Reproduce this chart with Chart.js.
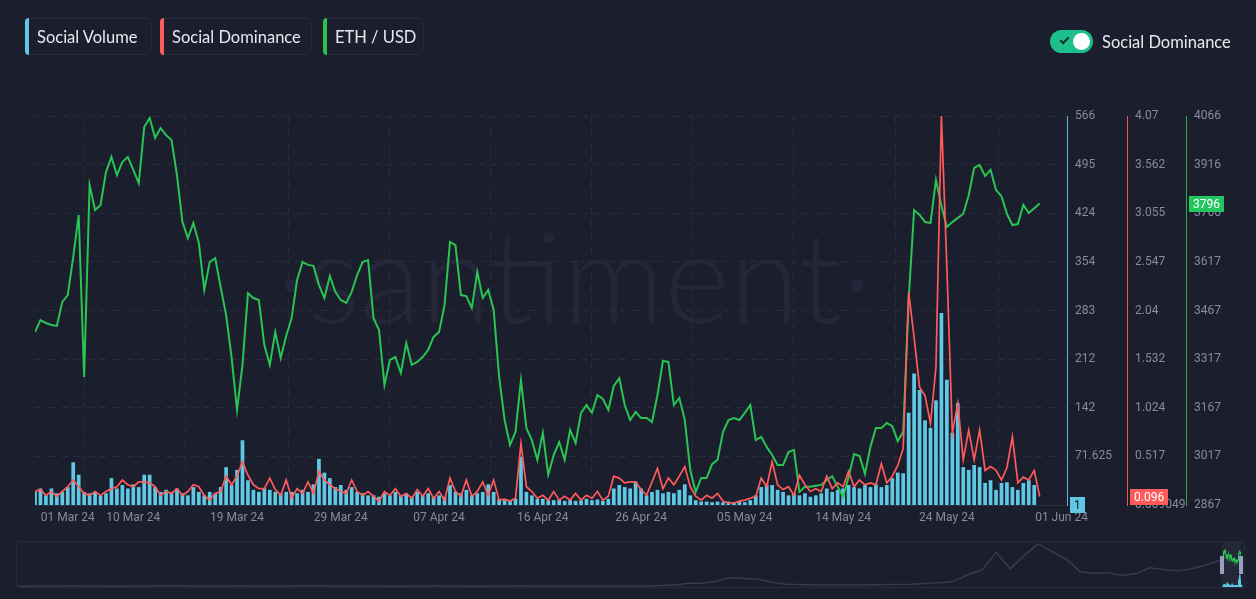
<!DOCTYPE html>
<html><head><meta charset="utf-8">
<script src="https://cdn.jsdelivr.net/npm/chart.js@4.4.1/dist/chart.umd.min.js"></script>
<style>
html,body{margin:0;padding:0;background:#1b1e2d;}
body{width:1256px;height:599px;position:relative;overflow:hidden;font-family:Lato,"Open Sans",sans-serif;}
.wm{position:absolute;left:276px;top:212px;font-family:Lato,"Open Sans",sans-serif;font-weight:300;font-size:126px;line-height:1;color:#232739;white-space:nowrap;z-index:0;}
#mainWrap{position:absolute;left:0;top:0;width:1256px;height:599px;z-index:1;}
.lg{position:absolute;top:18px;height:37px;box-sizing:border-box;border:1px solid #272b3d;border-radius:5px;color:#e7e9ef;font-size:16.5px;line-height:37px;padding-left:11px;z-index:2;}
.lg:before{content:"";position:absolute;left:-1px;top:-1px;bottom:-1px;width:4px;border-radius:5px 0 0 5px;background:var(--c);}
.tg{position:absolute;left:1050px;top:30px;width:43px;height:23px;border-radius:12px;background:#1fbf8d;z-index:2;}
.tg .knob{position:absolute;left:23px;top:3px;width:17px;height:17px;border-radius:50%;background:#fff;}
.tg .chk{position:absolute;left:10px;top:7px;width:7px;height:3px;border-left:2px solid #17301f;border-bottom:2px solid #17301f;transform:rotate(-45deg);}
.tgl{position:absolute;left:1102px;top:30px;font-size:16.5px;line-height:24px;color:#e7e9ef;z-index:2;}
#navWrap{position:absolute;left:16px;top:541px;width:1229px;height:47px;box-sizing:border-box;border:1px solid #262a3b;border-radius:4px;z-index:1;}
#navWrap canvas{position:absolute;left:0;top:0;}
</style></head>
<body>
<div class="wm">·santiment·</div>
<div id="mainWrap"><canvas id="main" width="1256" height="599"></canvas></div>
<div class="lg" style="left:25px;width:127px;--c:#5ec8e5">Social Volume</div>
<div class="lg" style="left:160px;width:152px;--c:#ff5b5b">Social Dominance</div>
<div class="lg" style="left:323px;width:101px;--c:#27c24f">ETH / USD</div>
<div class="tg"><span class="chk"></span><span class="knob"></span></div>
<div class="tgl">Social Dominance</div>
<div id="navWrap"><canvas id="nav" width="1227" height="45"></canvas></div>
<script>
// ---------- data (12-hour samples, 01 Mar 24 -> 01 Jun 24) ----------
const ethUsd = [3400,3437,3428,3422,3419,3493,3514,3631,3761,3262,
3853,3776,3792,3893,3940,3884,3924,3940,3900,3859,
4032,4060,3998,4029,4007,3992,3884,3739,3690,3736,
3675,3530,3616,3628,3539,3453,3323,3160,3299,3520,
3505,3499,3360,3299,3400,3320,3388,3443,3561,3616,
3607,3604,3545,3505,3573,3524,3499,3490,3524,3576,
3616,3622,3443,3406,3237,3314,3323,3274,3366,3299,
3308,3323,3345,3385,3400,3483,3678,3668,3514,3511,
3474,3585,3505,3530,3468,3262,3129,3052,3092,3252,
3104,3067,3006,3089,2960,3021,3061,3006,3098,3058,
3151,3175,3151,3206,3194,3160,3234,3258,3175,3129,
3154,3135,3135,3123,3206,3311,3308,3175,3197,3129,
2975,2907,2950,2950,2993,3006,3092,3129,3135,3129,
3151,3175,3067,3077,3046,3021,2990,2990,3030,3037,
2907,2923,2923,2926,2929,2944,2956,2923,2892,2953,
3024,3018,2963,3046,3104,3104,3120,3110,3064,3092,
3499,3776,3761,3739,3736,3869,3789,3724,3739,3752,
3764,3822,3906,3915,3881,3900,3838,3819,3764,3730,
3733,3792,3767,3782,3796];

const socialVolume = [20,25,15,25,18,20,27,63,45,20,
18,20,15,18,40,25,30,25,31,27,
45,45,27,20,23,20,25,18,15,27,
20,15,20,18,27,56,30,52,95,37,
23,20,25,23,20,18,20,20,18,23,
20,31,68,48,40,27,30,23,27,20,
18,15,15,13,18,15,20,15,18,13,
20,15,18,13,15,13,30,20,18,23,
15,18,20,31,20,10,8,8,10,71,
20,15,10,10,8,8,9,7,9,7,
8,10,8,9,7,10,25,30,27,25,
35,25,15,20,23,18,20,18,23,31,
15,8,6,6,5,6,5,6,5,6,
5,8,15,27,31,30,23,20,15,18,
15,18,13,15,18,25,20,23,25,30,
27,25,30,27,31,27,30,40,48,47,
135,192,168,124,113,153,280,183,106,149,
56,52,59,56,33,37,23,33,34,27,
23,33,37,30,1];

const socialDominance = [0.15,0.17,0.11,0.15,0.10,0.15,0.20,0.27,0.20,0.13,
0.11,0.15,0.11,0.15,0.18,0.20,0.27,0.22,0.20,0.25,
0.25,0.24,0.20,0.11,0.15,0.13,0.18,0.11,0.15,0.22,
0.20,0.11,0.06,0.13,0.15,0.31,0.22,0.31,0.46,0.32,
0.22,0.18,0.18,0.29,0.17,0.11,0.27,0.08,0.18,0.13,
0.25,0.13,0.36,0.27,0.22,0.18,0.15,0.13,0.27,0.15,
0.11,0.15,0.10,0.05,0.15,0.11,0.18,0.10,0.13,0.08,
0.17,0.10,0.18,0.08,0.15,0.06,0.29,0.15,0.10,0.27,
0.10,0.15,0.25,0.11,0.27,0.06,0.07,0.05,0.08,0.65,
0.20,0.15,0.08,0.11,0.06,0.15,0.06,0.10,0.06,0.13,
0.06,0.11,0.08,0.15,0.06,0.10,0.31,0.29,0.24,0.25,
0.25,0.17,0.11,0.25,0.39,0.18,0.29,0.22,0.31,0.41,
0.20,0.10,0.06,0.11,0.08,0.13,0.05,0.03,0.03,0.05,
0.06,0.08,0.10,0.29,0.20,0.46,0.22,0.17,0.20,0.11,
0.32,0.22,0.15,0.18,0.15,0.31,0.18,0.24,0.20,0.36,
0.20,0.27,0.22,0.24,0.22,0.44,0.24,0.31,0.42,0.60,
2.23,1.76,1.24,1.15,0.86,1.45,4.07,2.49,0.76,1.07,
0.48,0.79,0.48,0.79,0.37,0.41,0.37,0.27,0.40,0.72,
0.24,0.30,0.27,0.37,0.096];

const xTickLabels = ['01 Mar 24','10 Mar 24','19 Mar 24','29 Mar 24','07 Apr 24','16 Apr 24','26 Apr 24','05 May 24','14 May 24','24 May 24','01 Jun 24'];
const xTickIndex  = [0,18,37,56,74,93,111,130,148,167,188];

const volTickLabels = ['1','71.625','142','212','283','354','424','495','566'];
const domTickLabels = ['0.009049','0.517','1.024','1.532','2.04','2.547','3.055','3.562','4.07'];
const ethTickLabels = ['2867','3017','3167','3317','3467','3617','3766','3916','4066'];

// long-history overview line for the navigator strip
const navHistory = [90,100,110,100,120,110,100,90,100,110,120,130,120,110,100,110,120,110,100,110,120,130,120,110,100,110,100,90,100,110,120,110,100,90,100,110,120,110,100,100,110,100,100,110,
100,100,150,200,400,400,600,1000,900,800,500,300,250,200,200,200,200,200,250,250,300,400,450,600,1300,1800,3600,1900,3300,4500,3700,2900,1600,1400,1500,1200,1400,2000,1800,1700,1900,2300,2800];

// ---------- styling ----------
const C = {vol:'#5ec8e5', dom:'#ff5b5b', eth:'#29c452', grid:'#282c3e', tick:'#878b9e'};
const tickFont = {family:'Roboto', size:12};
const pts = arr => arr.map((v,i)=>({x:i,y:v}));
const evenTicks = labels => {
  const lo = parseFloat(labels[0]), hi = parseFloat(labels[labels.length-1]);
  return labels.map((_,k)=> lo + k*(hi-lo)/(labels.length-1));
};
const volVals = evenTicks(volTickLabels), domVals = evenTicks(domTickLabels), ethVals = evenTicks(ethTickLabels);
const X_MAX = 189;

const badgePlugin = {
  id:'badges',
  afterDraw(chart){
    const ctx = chart.ctx;
    const items = [
      {axis:'yVol', ds:2, bg:C.vol, fg:'#111420'},
      {axis:'yDom', ds:0, bg:C.dom, fg:'#ffffff'},
      {axis:'yEth', ds:1, bg:'#22c55e', fg:'#ffffff'}
    ];
    ctx.save();
    ctx.font = '12px Roboto';
    ctx.textBaseline = 'middle';
    items.forEach(it=>{
      const sc = chart.scales[it.axis];
      const d = chart.data.datasets[it.ds].data;
      const v = d[d.length-1].y;
      const y = Math.round(sc.getPixelForValue(v));
      const txt = String(v);
      const w = Math.round(ctx.measureText(txt).width) + 8;
      const x = sc.left + 3;
      ctx.fillStyle = it.bg;
      ctx.fillRect(x, y-8, w, 16);
      ctx.fillStyle = it.fg;
      ctx.fillText(txt, x+4, y+1);
    });
    ctx.restore();
  }
};

const yAxis = (labels, vals, color, weight, width, showGrid) => ({
  type:'linear', position:'right', weight, bounds:'data',
  min: vals[0], max: vals[vals.length-1],
  afterBuildTicks: s => { s.ticks = vals.map(v=>({value:v})); },
  afterFit: s => { s.width = width; },
  ticks:{color:C.tick, font:tickFont, padding:8, callback:(v,i)=>labels[i]},
  grid:{display:showGrid, color:C.grid, drawTicks:false},
  border:{display:true, color, width:1, dash:[7,6]}
});

new Chart(document.getElementById('main'), {
  type:'line',
  data:{datasets:[
    {type:'line', label:'Social Dominance', data:pts(socialDominance), xAxisID:'xGrid', yAxisID:'yDom',
     borderColor:C.dom, borderWidth:1.7, pointRadius:0, tension:0, order:0},
    {type:'line', label:'ETH / USD', data:pts(ethUsd), xAxisID:'xGrid', yAxisID:'yEth',
     borderColor:C.eth, borderWidth:2, pointRadius:0, tension:0, order:1},
    {type:'bar', label:'Social Volume', data:pts(socialVolume), xAxisID:'xGrid', yAxisID:'yVol',
     backgroundColor:C.vol, barPercentage:0.68, categoryPercentage:1, order:2}
  ]},
  options:{
    responsive:false, animation:false, devicePixelRatio:1,
    layout:{padding:{left:35, top:116, right:0, bottom:70}},
    plugins:{legend:{display:false}, tooltip:{enabled:false}},
    scales:{
      xGrid:{type:'linear', position:'bottom', weight:0, min:0, max:X_MAX, offset:false, bounds:'data',
        afterBuildTicks: s => { s.ticks = xTickIndex.slice(0,-1).map(v=>({value:v})); },
        afterFit: s => { s.height = 0; },
        ticks:{display:false}, grid:{color:C.grid, drawTicks:false}, border:{display:false, dash:[7,6]}},
      xLab:{type:'linear', position:'bottom', weight:1, min:0, max:X_MAX, offset:false, bounds:'data',
        afterBuildTicks: s => { s.ticks = xTickIndex.map((v,i)=>({value: i===0 ? v+6 : v})); },
        afterFit: s => { s.height = 24; },
        ticks:{color:C.tick, font:tickFont, padding:6, maxRotation:0, autoSkip:false, callback:(v,i)=>xTickLabels[i]},
        grid:{display:false, drawTicks:false}, border:{display:true, color:'#2a2f44'}},
      yVol: yAxis(volTickLabels, volVals, '#56b9d6', 0, 60, true),
      yDom: yAxis(domTickLabels, domVals, '#f0585a', 1, 59, false),
      yEth: yAxis(ethTickLabels, ethVals, '#27ad4c', 2, 70, false)
    }
  },
  plugins:[badgePlugin]
});

// ---------- navigator ----------
const NAV_W = 1227, NAV_H = 45, WIN_L = 1205, WIN_R = 1224, NAV_LINE_END = 1203;
const N = ethUsd.length;
const wSpan = (N-1) * NAV_W / (WIN_R - WIN_L - 1);
const wMin = -(WIN_L + 1) * wSpan / NAV_W;
const ethLo = ethVals[0], ethHi = ethVals[ethVals.length-1];
const ewTop = 8, ewBot = 20;
const ewMax = ethHi + ewTop*(ethHi-ethLo)/(ewBot-ewTop);
const ewMin = ewMax - NAV_H*(ethHi-ethLo)/(ewBot-ewTop);
const vwMax = Math.max(...socialVolume) * NAV_H / 12;

const navPlugin = {
  id:'navWindow',
  beforeDatasetsDraw(chart){
    const ctx = chart.ctx; ctx.save();
    ctx.fillStyle = 'rgba(255,255,255,0.045)';
    ctx.fillRect(WIN_L, 0, WIN_R-WIN_L, NAV_H);
    ctx.restore();
  },
  afterDatasetsDraw(chart){
    const ctx = chart.ctx; ctx.save();
    ctx.fillStyle = '#9a9ec0';
    ctx.fillRect(WIN_L-2, 14, 4, 18);
    ctx.fillRect(WIN_R-2, 14, 4, 18);
    ctx.restore();
  }
};

new Chart(document.getElementById('nav'), {
  type:'line',
  data:{datasets:[
    {data:pts(navHistory), xAxisID:'x', yAxisID:'y', borderColor:'#363a52', borderWidth:1.5, pointRadius:0, tension:0},
    {data:pts(ethUsd), xAxisID:'xw', yAxisID:'yw', borderColor:C.eth, borderWidth:1.2, pointRadius:0, tension:0, clip:false},
    {type:'bar', data:pts(socialVolume), xAxisID:'xw', yAxisID:'yv', backgroundColor:C.vol, barThickness:1}
  ]},
  options:{
    responsive:false, animation:false, devicePixelRatio:1,
    layout:{padding:0},
    plugins:{legend:{display:false}, tooltip:{enabled:false}},
    scales:{
      x:{type:'linear', display:false, min:0, max:(navHistory.length-1)*NAV_W/NAV_LINE_END, bounds:'data'},
      y:{type:'linear', display:false, min:0, max:4700},
      xw:{type:'linear', display:false, min:wMin, max:wMin+wSpan, bounds:'data', offset:false},
      yw:{type:'linear', display:false, min:ewMin, max:ewMax},
      yv:{type:'linear', display:false, min:0, max:vwMax}
    }
  },
  plugins:[navPlugin]
});
</script>
</body></html>
